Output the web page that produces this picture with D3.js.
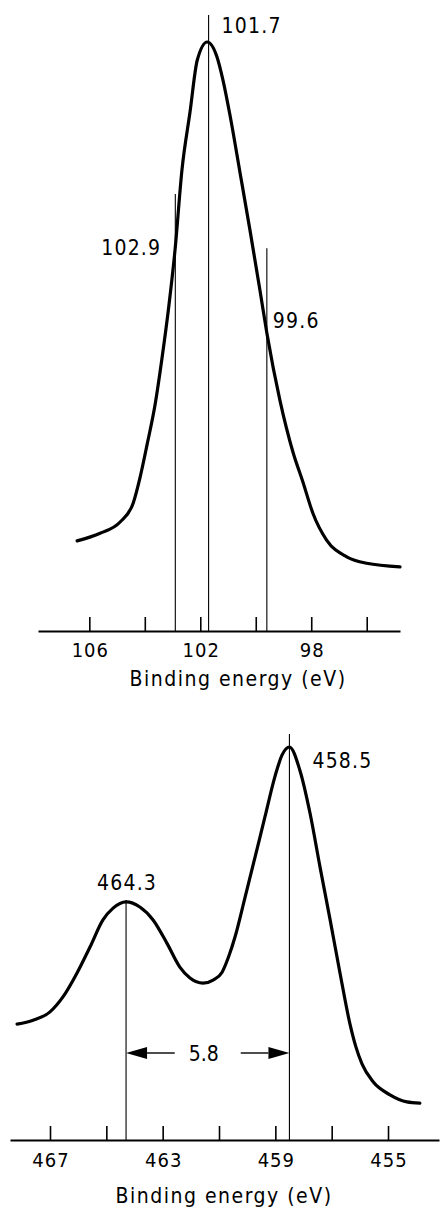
<!DOCTYPE html>
<html>
<head>
<meta charset="utf-8">
<script src="https://cdn.jsdelivr.net/npm/d3@7"></script>
<style>
	html, body { margin: 0; padding: 0; background: #fff; }
	svg { display: block; }
	text { font-family: "DejaVu Sans Condensed", "DejaVu Sans", sans-serif; fill: #000; }
</style>
</head>
<body>
<div id="root"></div>
<script>
// Si 2p spectrum (top)
const siEnergy = [106.44, 105.61, 104.89, 104.42, 104.17, 103.92, 103.63, 103.38, 103.13, 102.91, 102.66, 102.37, 102.11, 101.75, 101.40, 101.18, 100.93, 100.57, 100.21, 99.85, 99.60, 99.13, 98.66, 98.30, 97.94, 97.44, 96.72, 96.00, 94.80]
const siCounts = [15.3, 16.6, 18.5, 21.7, 26.1, 31.6, 38.4, 46.3, 55.3, 64.7, 78.3, 88.1, 96.9, 100, 97.5, 93.5, 87.6, 77.9, 68.1, 57.9, 50.6, 39.2, 30.4, 25.3, 20.0, 15.4, 12.6, 11.5, 10.9]
const siTicks = [106, 104, 102, 100, 98, 96]
const siTickLabels = ['106', '', '102', '', '98', '']
const siMarkers = [102.9, 101.7, 99.6]
const siMarkerHeights = [74.2, 104.6, 65.0]

// Ti 2p spectrum (bottom)
const tiEnergy = [468.17, 467.60, 467.00, 466.54, 466.04, 465.58, 465.12, 464.76, 464.30, 463.81, 463.34, 462.85, 462.39, 462.03, 461.57, 461.21, 460.89, 460.65, 460.43, 460.08, 459.72, 459.37, 459.01, 458.76, 458.50, 458.13, 457.77, 457.42, 457.06, 456.71, 456.35, 456.14, 455.92, 455.53, 454.93, 454.33, 453.87]
const tiCounts = [29.5, 30.5, 32.6, 36.4, 42.5, 49.1, 56.0, 59.0, 60.6, 59.3, 56.0, 50.1, 44.0, 41.2, 39.9, 40.7, 42.7, 46.8, 51.7, 61.6, 72.0, 82.2, 92.6, 98.0, 100, 94.1, 83.2, 69.7, 56.2, 42.7, 29.5, 23.7, 19.3, 14.8, 11.5, 9.7, 9.4]
const tiTicks = [467, 465, 463, 461, 459, 457, 455]
const tiTickLabels = ['467', '', '463', '', '459', '', '455']
const tiMarkers = [464.3, 458.5]
const tiMarkerHeights = [61.1, 103.3]
const tiSplitting = 5.8

const axisTitle = 'Binding energy (eV)'

const W = 440,
	H = 1210

const svg = d3.select('#root').append('svg')
	.attr('width', W)
	.attr('height', H)
	.attr('viewBox', `0 0 ${W} ${H}`)

function drawPanel (opt) {
	const g = svg.append('g')

	const x = d3.scaleLinear()
		.domain(opt.xDomain)
		.range(opt.xRange)

	const y = d3.scaleLinear()
		.domain([0, 100])
		.range(opt.yRange)

	// axis: ticks point up, labels below
	const axis = d3.axisBottom(x)
		.tickValues(opt.ticks)
		.tickFormat((d, i) => opt.tickLabels[i])
		.tickSizeInner(-14)
		.tickSizeOuter(0)
		.tickPadding(opt.tickPadding)

	const ax = g.append('g')
		.attr('transform', `translate(0,${y(0)})`)
		.call(axis)

	ax.select('.domain')
		.attr('stroke', '#000')
		.attr('stroke-width', 2)
	ax.selectAll('.tick line')
		.attr('stroke', '#000')
		.attr('stroke-width', 1.6)
	ax.selectAll('.tick text')
		.attr('font-family', null)
		.attr('font-size', 20)
		.attr('letter-spacing', '1px')
		.attr('dx', '0.5px')

	g.append('text')
		.attr('x', opt.titleX)
		.attr('y', opt.titleY)
		.attr('text-anchor', 'middle')
		.attr('font-size', 21)
		.attr('letter-spacing', '1.5px')
		.text(opt.title)

	// marker lines
	g.selectAll('.marker')
		.data(opt.markers)
		.enter()
		.append('line')
		.attr('class', 'marker')
		.attr('x1', d => x(d))
		.attr('x2', d => x(d))
		.attr('y1', y(0))
		.attr('y2', (d, i) => y(opt.markerHeights[i]))
		.attr('stroke', '#000')
		.attr('stroke-width', 1.1)

	g.selectAll('.markerLabel')
		.data(opt.markers)
		.enter()
		.append('text')
		.attr('class', 'markerLabel')
		.attr('x', (d, i) => x(d) + opt.labelPos[i].dx)
		.attr('y', (d, i) => y(opt.markerHeights[i]) + opt.labelPos[i].dy)
		.attr('text-anchor', (d, i) => opt.labelPos[i].anchor)
		.attr('font-size', 21)
		.attr('letter-spacing', '1.2px')
		.text(d => d.toFixed(1))

	// spectrum
	const pts = opt.energy.map((e, i) => [e, opt.counts[i]])
	const line = d3.line()
		.x(d => x(d[0]))
		.y(d => y(d[1]))
		.curve(d3.curveMonotoneX)

	g.append('path')
		.datum(pts)
		.attr('d', line)
		.attr('fill', 'none')
		.attr('stroke', '#000')
		.attr('stroke-width', 3.2)
		.attr('stroke-linejoin', 'round')
		.attr('stroke-linecap', 'round')

	return {g, x, y}
}

drawPanel({
	xDomain: [107.85, 94.80],
	xRange: [38, 400],
	yRange: [631, 42],
	ticks: siTicks,
	tickLabels: siTickLabels,
	tickPadding: 12,
	title: axisTitle,
	titleX: 238,
	titleY: 686,
	energy: siEnergy,
	counts: siCounts,
	markers: siMarkers,
	markerHeights: siMarkerHeights,
	labelPos: [
		{dx: -14, dy: 61, anchor: 'end'},
		{dx: 13, dy: 18, anchor: 'start'},
		{dx: 6, dy: 80, anchor: 'start'},
	],
})

const ti = drawPanel({
	xDomain: [468.42, 453.19],
	xRange: [10, 439],
	yRange: [1140, 747],
	ticks: tiTicks,
	tickLabels: tiTickLabels,
	tickPadding: 13,
	title: axisTitle,
	titleX: 224,
	titleY: 1203,
	energy: tiEnergy,
	counts: tiCounts,
	markers: tiMarkers,
	markerHeights: tiMarkerHeights,
	labelPos: [
		{dx: 1, dy: -10, anchor: 'middle'},
		{dx: 23, dy: 34, anchor: 'start'},
	],
})

// spin-orbit splitting arrows
const ay = 1053,
	xa = ti.x(tiMarkers[0]),
	xb = ti.x(tiMarkers[1]),
	mid = (xa + xb) / 2,
	gap = 33,
	head = 21

const arrows = ti.g.append('g')

arrows.append('line')
	.attr('x1', xa + head).attr('x2', mid - gap)
	.attr('y1', ay).attr('y2', ay)
	.attr('stroke', '#000').attr('stroke-width', 1.4)
arrows.append('line')
	.attr('x1', mid + gap).attr('x2', xb - head)
	.attr('y1', ay).attr('y2', ay)
	.attr('stroke', '#000').attr('stroke-width', 1.4)

arrows.append('path')
	.attr('d', `M${xa},${ay}L${xa + head},${ay - 6}L${xa + head},${ay + 6}Z`)
	.attr('fill', '#000')
arrows.append('path')
	.attr('d', `M${xb},${ay}L${xb - head},${ay - 6}L${xb - head},${ay + 6}Z`)
	.attr('fill', '#000')

arrows.append('text')
	.attr('x', mid - 4)
	.attr('y', ay + 8)
	.attr('text-anchor', 'middle')
	.attr('font-size', 21)
	.text(tiSplitting.toFixed(1))
</script>
</body>
</html>
